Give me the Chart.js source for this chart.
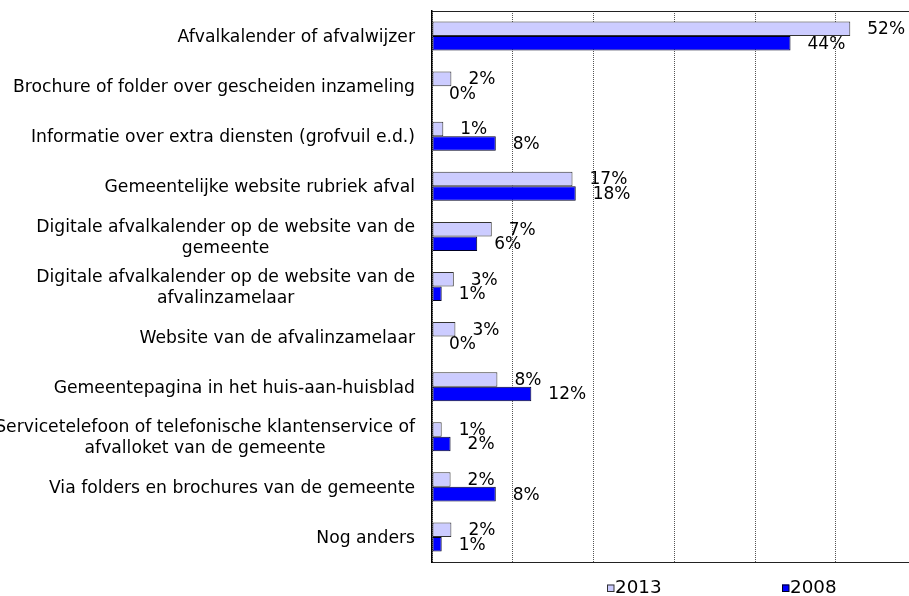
<!DOCTYPE html>
<html>
<head>
<meta charset="utf-8">
<script src="https://cdn.jsdelivr.net/npm/chart.js@4.4.0/dist/chart.umd.min.js"></script>
<style>
  html, body { margin: 0; padding: 0; background: #fff; }
  #wrap { width: 909px; height: 596px; overflow: hidden; }
</style>
</head>
<body>
<div id="wrap"><canvas id="myChartBar" width="930" height="596"></canvas></div>
<script>
// categories (multi-line where the original wraps)
const categories = [
  ['Afvalkalender of afvalwijzer'],
  ['Brochure of folder over gescheiden inzameling'],
  ['Informatie over extra diensten (grofvuil e.d.)'],
  ['Gemeentelijke website rubriek afval'],
  ['Digitale afvalkalender op de website van de', 'gemeente'],
  ['Digitale afvalkalender op de website van de', 'afvalinzamelaar'],
  ['Website van de afvalinzamelaar'],
  ['Gemeentepagina in het huis-aan-huisblad'],
  ['Servicetelefoon of telefonische klantenservice of', 'afvalloket van de gemeente'],
  ['Via folders en brochures van de gemeente'],
  ['Nog anders']
]
const values2013 = [51.8, 2.4, 1.4, 17.4, 7.4, 2.7, 2.9, 8.1, 1.2, 2.3, 2.4]
const values2008 = [44.4, 0, 7.9, 17.8, 5.6, 1.2, 0, 12.3, 2.3, 7.9, 1.2]
const seriesNames = ['2013', '2008']

const FONT = '"DejaVu Sans", Verdana, sans-serif'

// category labels: block right-aligned to the axis, lines centred inside the block
const categoryLabels = {
    id: 'categoryLabels',
    afterDraw(chart) {
        const ctx = chart.ctx
        const yScale = chart.scales.y
        const right = chart.chartArea.left - 17
        ctx.save()
        ctx.font = '17.2px ' + FONT
        ctx.fillStyle = '#000'
        ctx.textAlign = 'center'
        ctx.textBaseline = 'middle'
        categories.forEach((lines, i) => {
            const yc = yScale.getPixelForValue(i) + 1.5
            const w = Math.max(...lines.map(l => ctx.measureText(l).width))
            const lh = 20.5
            const top = yc - (lines.length - 1) * lh / 2
            lines.forEach((l, j) => ctx.fillText(l, right - w / 2, top + j * lh))
        })
        ctx.restore()
    }
}

// percentage labels at the end of each bar
const valueLabels = {
    id: 'valueLabels',
    afterDatasetsDraw(chart) {
        const ctx = chart.ctx
        ctx.save()
        ctx.font = '17px ' + FONT
        ctx.fillStyle = '#000'
        ctx.textAlign = 'left'
        ctx.textBaseline = 'middle'
        chart.data.datasets.forEach((ds, di) => {
            chart.getDatasetMeta(di).data.forEach((bar, i) => {
                ctx.fillText(Math.round(ds.data[i]) + '%', bar.x + 17, bar.y + 1)
            })
        })
        ctx.restore()
    }
}

// legend below the plot
const bottomLegend = {
    id: 'bottomLegend',
    afterDraw(chart) {
        const ctx = chart.ctx
        const area = chart.chartArea
        const y = area.bottom + 26
        const starts = [area.left + 175, area.left + 350]
        ctx.save()
        ctx.font = '18.3px ' + FONT
        ctx.textBaseline = 'middle'
        ctx.textAlign = 'left'
        chart.data.datasets.forEach((ds, di) => {
            const x = starts[di]
            ctx.fillStyle = ds.backgroundColor
            ctx.fillRect(x, y - 3.5, 7, 7)
            ctx.strokeStyle = ds.borderColor
            ctx.lineWidth = 1
            ctx.strokeRect(x + 0.5, y - 3, 6.5, 6.5)
            ctx.fillStyle = '#000'
            ctx.fillText(ds.label, x + 8, y + 0.5)
        })
        ctx.restore()
    }
}

let myChart = document.getElementById('myChartBar').getContext('2d')

let barsChart = new Chart(myChart, {
    type: 'bar',
    data: {
        labels: categories,
        datasets: [{
            label: seriesNames[0],
            data: values2013,
            backgroundColor: '#ccccff',
            borderColor: '#333333',
            borderWidth: 1,
            borderSkipped: false,
            categoryPercentage: 0.58,
            barPercentage: 1.0
        },
        {
            label: seriesNames[1],
            data: values2008,
            backgroundColor: '#0000ff',
            borderColor: '#000022',
            borderWidth: 1,
            borderSkipped: false,
            categoryPercentage: 0.58,
            barPercentage: 1.0
        }]
    },
    options: {
        indexAxis: 'y',
        responsive: false,
        animation: false,
        devicePixelRatio: 1,
        layout: {
            padding: { left: 432, top: 11, right: 13.5, bottom: 34 }
        },
        scales: {
            x: {
                min: 0,
                max: 60,
                position: 'bottom',
                ticks: { display: false, stepSize: 10 },
                grid: { color: '#555', lineWidth: 1, drawTicks: false },
                border: { display: true, color: '#222', width: 1, dash: [1, 1] }
            },
            x2: {
                min: 0,
                max: 60,
                position: 'top',
                ticks: { display: false },
                grid: { display: false, drawTicks: false },
                border: { display: true, color: '#222', width: 1 }
            },
            y: {
                ticks: { display: false },
                grid: { display: false, drawTicks: false },
                border: { display: true, color: '#000', width: 1.5 }
            }
        },
        plugins: {
            legend: { display: false },
            tooltip: { enabled: false }
        }
    },
    plugins: [categoryLabels, valueLabels, bottomLegend]
})
</script>
</body>
</html>
